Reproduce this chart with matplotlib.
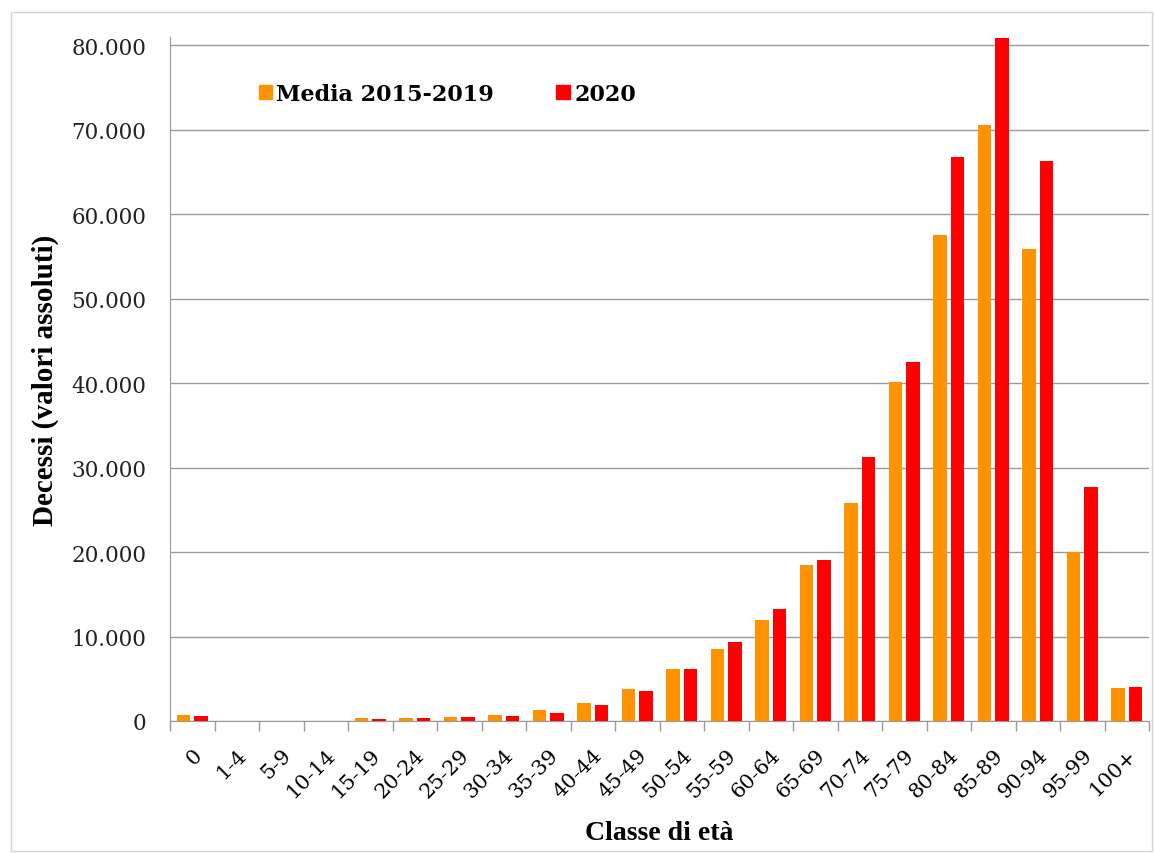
import numpy as np
import matplotlib.pyplot as plt
from matplotlib.ticker import FuncFormatter, FixedLocator
from matplotlib.patches import Rectangle, Patch

AgeClasses   = ['0', '1-4', '5-9', '10-14', '15-19', '20-24', '25-29', '30-34', '35-39', '40-44',
                '45-49', '50-54', '55-59', '60-64', '65-69', '70-74', '75-79', '80-84', '85-89',
                '90-94', '95-99', '100+']
Media20152019 = [700, 30, 20, 25, 300, 400, 520, 700, 1250, 2150, 3800, 6100, 8550, 12000,
                 18500, 25800, 40100, 57600, 70600, 55900, 20000, 3900]
Deaths2020    = [600, 25, 15, 20, 280, 340, 430, 620, 1000, 1850, 3500, 6100, 9350, 13300,
                 19100, 31300, 42500, 66800, 80900, 66300, 27700, 4050]

OrangeColor = '#FF9200'
RedColor    = '#FF0000'
GridColor   = '#9a9a9a'

fig = plt.figure(figsize=(11.54, 8.54), dpi=100)
fig.patches.append(Rectangle((11/1154, 0.002), 1141/1154, 1 - 13/854 - 0.002, transform=fig.transFigure,
                             fill=False, edgecolor='#d4d4d4', linewidth=1))
ax = fig.add_axes([170/1154, 1 - 722/854, 979/1154, 684/854])

x = np.arange(len(AgeClasses))
BarWidth = 0.31
ax.bar(x - 0.195, Media20152019, BarWidth, color=OrangeColor, zorder=3)
ax.bar(x + 0.195, Deaths2020, BarWidth, color=RedColor, zorder=3)

ax.set_xlim(-0.5, len(AgeClasses) - 0.5)
ax.set_ylim(0, 81000)
ax.set_yticks(np.arange(0, 80001, 10000))
ax.yaxis.set_major_formatter(FuncFormatter(lambda v, p: f"{int(v):,}".replace(",", ".")))
ax.grid(axis='y', color=GridColor, linewidth=1, zorder=0)

# ticks between classes, labels at the class centres
ax.xaxis.set_major_locator(FixedLocator(np.arange(-0.5, len(AgeClasses), 1.0)))
ax.xaxis.set_major_formatter(FuncFormatter(lambda v, p: ""))
ax.set_xticks(x, minor=True)
ax.set_xticklabels(AgeClasses, minor=True, rotation=45, ha='right', rotation_mode='anchor',
                   fontsize=15, family='DejaVu Serif')
ax.tick_params(axis='x', which='major', length=7, color=GridColor, width=1)
ax.tick_params(axis='x', which='minor', length=0, pad=17)
ax.tick_params(axis='y', length=0, pad=17, labelsize=15.5)
for lab in ax.get_yticklabels():
    lab.set_family('DejaVu Serif')
    lab.set_color('#222222')

for side in ['top', 'right']:
    ax.spines[side].set_visible(False)
for side in ['left', 'bottom']:
    ax.spines[side].set_color(GridColor)

ax.set_ylabel("Decessi (valori assoluti)", fontsize=21, fontweight='bold', family='Liberation Serif')
ax.yaxis.set_label_coords(-0.113, 0.5)
ax.set_xlabel("Classe di età", fontsize=20, fontweight='bold', family='Liberation Serif')
ax.xaxis.set_label_coords(0.5, -0.145)

Handles = [Patch(color=OrangeColor, label='Media 2015-2019'), Patch(color=RedColor, label='2020')]
ax.legend(handles=Handles, loc='center left', bbox_to_anchor=(0.07, 0.917), ncol=2, frameon=False,
          handlelength=0.6, handleheight=0.6, handletextpad=0.2, columnspacing=2.8,
          prop={'family': 'DejaVu Serif', 'weight': 'bold', 'size': 16})

plt.savefig("out.png", dpi=100)
plt.close()
